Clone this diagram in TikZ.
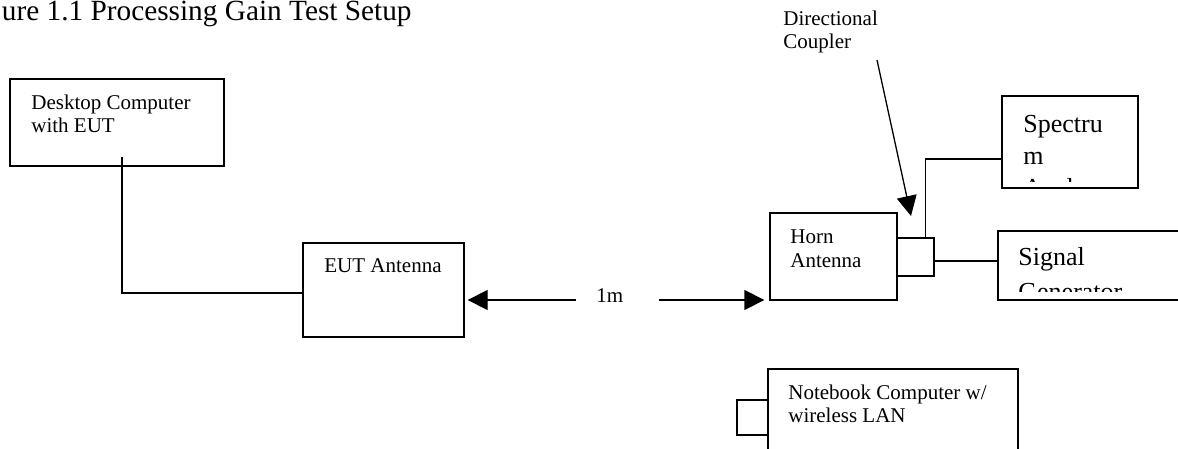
\documentclass[tikz,border=0pt]{standalone}
\usepackage{fontspec}
\setmainfont{Liberation Serif}
\usetikzlibrary{arrows.meta,fit}
\tikzset{
  box/.style={draw, line width=0.65pt, inner sep=0pt},
  wire/.style={line width=0.65pt},
  arr/.style={line width=0.65pt, -{Triangle[length=10pt,width=10pt]}},
  lbl/.style={inner sep=0pt, anchor=base west, align=left, font=\fontsize{10.5}{11.5}\selectfont},
  biglbl/.style={lbl, font=\fontsize{13}{15}\selectfont},
}
\begin{document}
\begin{tikzpicture}[x=0.5pt, y=-0.5pt]
\useasboundingbox (0,0) rectangle (1178,449);

\node[lbl, font=\fontsize{14.65}{16}\selectfont] (title) at (1.5,20.5) {ure 1.1 Processing Gain Test Setup};

\node[box, fit={(10,79) (224,166)}] (desk) {};
\node[box, fit={(303,243) (464,337)}] (eut) {};
\node[box, fit={(770,213) (897,300)}] (horn) {};
\node[box, fit={(897,238) (934,276)}] (coupler) {};
\node[box, fit={(1002,96) (1138,188)}] (spec) {};
\node[box, fit={(998,231) (1200,300)}] (siggen) {};
\node[box, fit={(768,369) (1018,470)}] (nbook) {};
\node[box, fit={(737,400) (768,435)}] (nbport) {};

\node[lbl] (desk-t) at (31,133) {Desktop Computer\\with EUT};
\node[lbl] (eut-t) at (324,272) {EUT Antenna};
\node[lbl, font=\fontsize{10.5}{12}\selectfont] (horn-t) at (790,267) {Horn\\Antenna};
\node[lbl] (dc-t) at (783,49) {Directional\\Coupler};
\node[lbl] (nbook-t) at (788,422) {Notebook Computer w/\\wireless LAN};
\node[lbl] (dist) at (596,302) {1m};
\begin{scope}
\clip (spec.north west) rectangle ([yshift=3.5pt]spec.south east);
\node[biglbl, font=\fontsize{13}{16}\selectfont] (spec-t) at (1023,196) {Spectru\\m\\Analyzer};
\end{scope}
\begin{scope}
\clip (siggen.north west) rectangle ([yshift=4.5pt]siggen.south east);
\node[biglbl, font=\fontsize{13}{17.5}\selectfont] (siggen-t) at (1018,300) {Signal\\Generator};
\end{scope}

\coordinate (desk-out) at (122,157);
\coordinate (dist-l) at (576,300);
\coordinate (dist-r) at (659,300);
\coordinate (dc-from) at (877,60);
\coordinate (dc-to) at (911,216);
\coordinate (cpl-out) at ([yshift=-2pt]coupler.east);
\draw[wire] (desk-out) |- ([yshift=-1.5pt]eut.west);
\draw[arr, shorten >=1.5pt] (dist-l) -- (eut.east |- dist-l);
\draw[arr, shorten >=2.5pt] (dist-r) -- (horn.west |- dist-r);
\draw[arr] (dc-from) -- (dc-to);
\draw[wire] ([xshift=5pt]coupler.north) |- ([yshift=-8.5pt]spec.west);
\draw[wire] (cpl-out) -- (siggen.west |- cpl-out);
\end{tikzpicture}
\end{document}
